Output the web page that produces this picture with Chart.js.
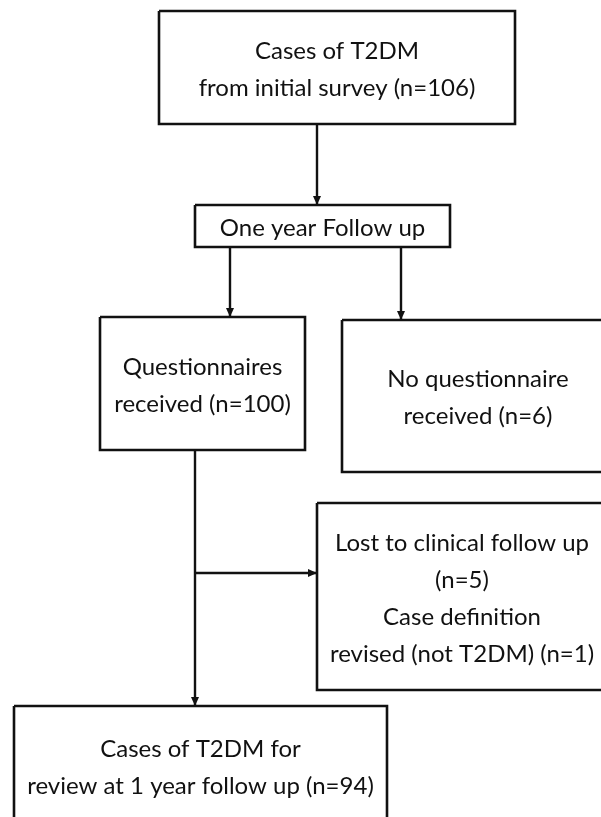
<!DOCTYPE html>
<html>
<head>
<meta charset="utf-8">
<script src="https://cdn.jsdelivr.net/npm/chart.js@4"></script>
<style>
  html, body { margin: 0; padding: 0; background: #fff; }
  canvas { display: block; }
</style>
</head>
<body>
<canvas id="flowChart" width="601" height="817"></canvas>
<script>
// flow diagram content, in diagram units (the page is 601 x 817 of them)
const boxText = [
    ['Cases of T2DM', 'from initial survey (n=106)'],
    ['One year Follow up'],
    ['Questionnaires', 'received (n=100)'],
    ['No questionnaire', 'received (n=6)'],
    ['Lost to clinical follow up', '(n=5)', 'Case definition', 'revised (not T2DM) (n=1)'],
    ['Cases of T2DM for', 'review at 1 year follow up (n=94)']
];
const boxLeft = [159, 195, 100, 342, 317, 14];
const boxRight = [515, 450, 305, 614, 607, 387];
const boxTop = [11, 205, 317, 320, 503, 706];
const boxBottom = [124, 247, 450, 472, 690, 826];

// connectors: start x/y, end x/y, arrow head at the end or not
const linkFromX = [317, 230, 401, 195, 195];
const linkFromY = [124, 247, 247, 450, 573];
const linkToX = [317, 230, 401, 195, 317];
const linkToY = [205, 317, 320, 706, 573];
const linkArrow = [true, true, true, true, true];

const datasets = [];
for (let i = 0; i < boxText.length; i++) {
    datasets.push({
        data: [
            {x: boxLeft[i], y: boxTop[i]},
            {x: boxRight[i], y: boxTop[i]},
            {x: boxRight[i], y: boxBottom[i]},
            {x: boxLeft[i], y: boxBottom[i]},
            {x: boxLeft[i], y: boxTop[i]}
        ],
        showLine: true,
        borderColor: '#111',
        borderWidth: 2.6,
        pointRadius: 0,
        borderJoinStyle: 'miter'
    });
}
for (let i = 0; i < linkFromX.length; i++) {
    datasets.push({
        data: [{x: linkFromX[i], y: linkFromY[i]}, {x: linkToX[i], y: linkToY[i]}],
        showLine: true,
        borderColor: '#111',
        borderWidth: 2.4,
        pointRadius: 0
    });
}

const flowExtras = {
    id: 'flowExtras',
    afterDatasetsDraw(chart) {
        const c = chart.ctx;
        const sx = chart.scales.x, sy = chart.scales.y;
        c.save();
        // arrow heads
        c.fillStyle = '#111';
        for (let i = 0; i < linkFromX.length; i++) {
            if (!linkArrow[i]) continue;
            const x0 = sx.getPixelForValue(linkFromX[i]), y0 = sy.getPixelForValue(linkFromY[i]);
            const x1 = sx.getPixelForValue(linkToX[i]), y1 = sy.getPixelForValue(linkToY[i]);
            const a = Math.atan2(y1 - y0, x1 - x0);
            const len = 9, half = 4;
            c.beginPath();
            c.moveTo(x1, y1);
            c.lineTo(x1 - len * Math.cos(a) + half * Math.sin(a), y1 - len * Math.sin(a) - half * Math.cos(a));
            c.lineTo(x1 - len * Math.cos(a) - half * Math.sin(a), y1 - len * Math.sin(a) + half * Math.cos(a));
            c.closePath();
            c.fill();
        }
        // box labels
        c.fillStyle = '#111';
        c.font = '24px Lato';
        c.textAlign = 'center';
        c.textBaseline = 'middle';
        const lineGap = 37;
        for (let i = 0; i < boxText.length; i++) {
            const cx = sx.getPixelForValue((boxLeft[i] + boxRight[i]) / 2);
            const cy = sy.getPixelForValue((boxTop[i] + boxBottom[i]) / 2);
            const lines = boxText[i];
            const y0 = cy - (lines.length - 1) * lineGap / 2 + 2;
            lines.forEach(function(t, k) {
                c.fillText(t, cx, y0 + k * lineGap);
            });
        }
        c.restore();
    }
};

window.addEventListener('DOMContentLoaded', function() {
    const ctx = document.getElementById('flowChart').getContext('2d');
    new Chart(ctx, {
        type: 'scatter',
        data: { datasets: datasets },
        options: {
            responsive: false,
            animation: false,
            layout: { padding: 0 },
            plugins: { legend: { display: false }, tooltip: { enabled: false } },
            scales: {
                x: { type: 'linear', min: 0, max: 601, display: false },
                y: { type: 'linear', min: 0, max: 817, reverse: true, display: false }
            }
        },
        plugins: [flowExtras]
    });
});
</script>
</body>
</html>
